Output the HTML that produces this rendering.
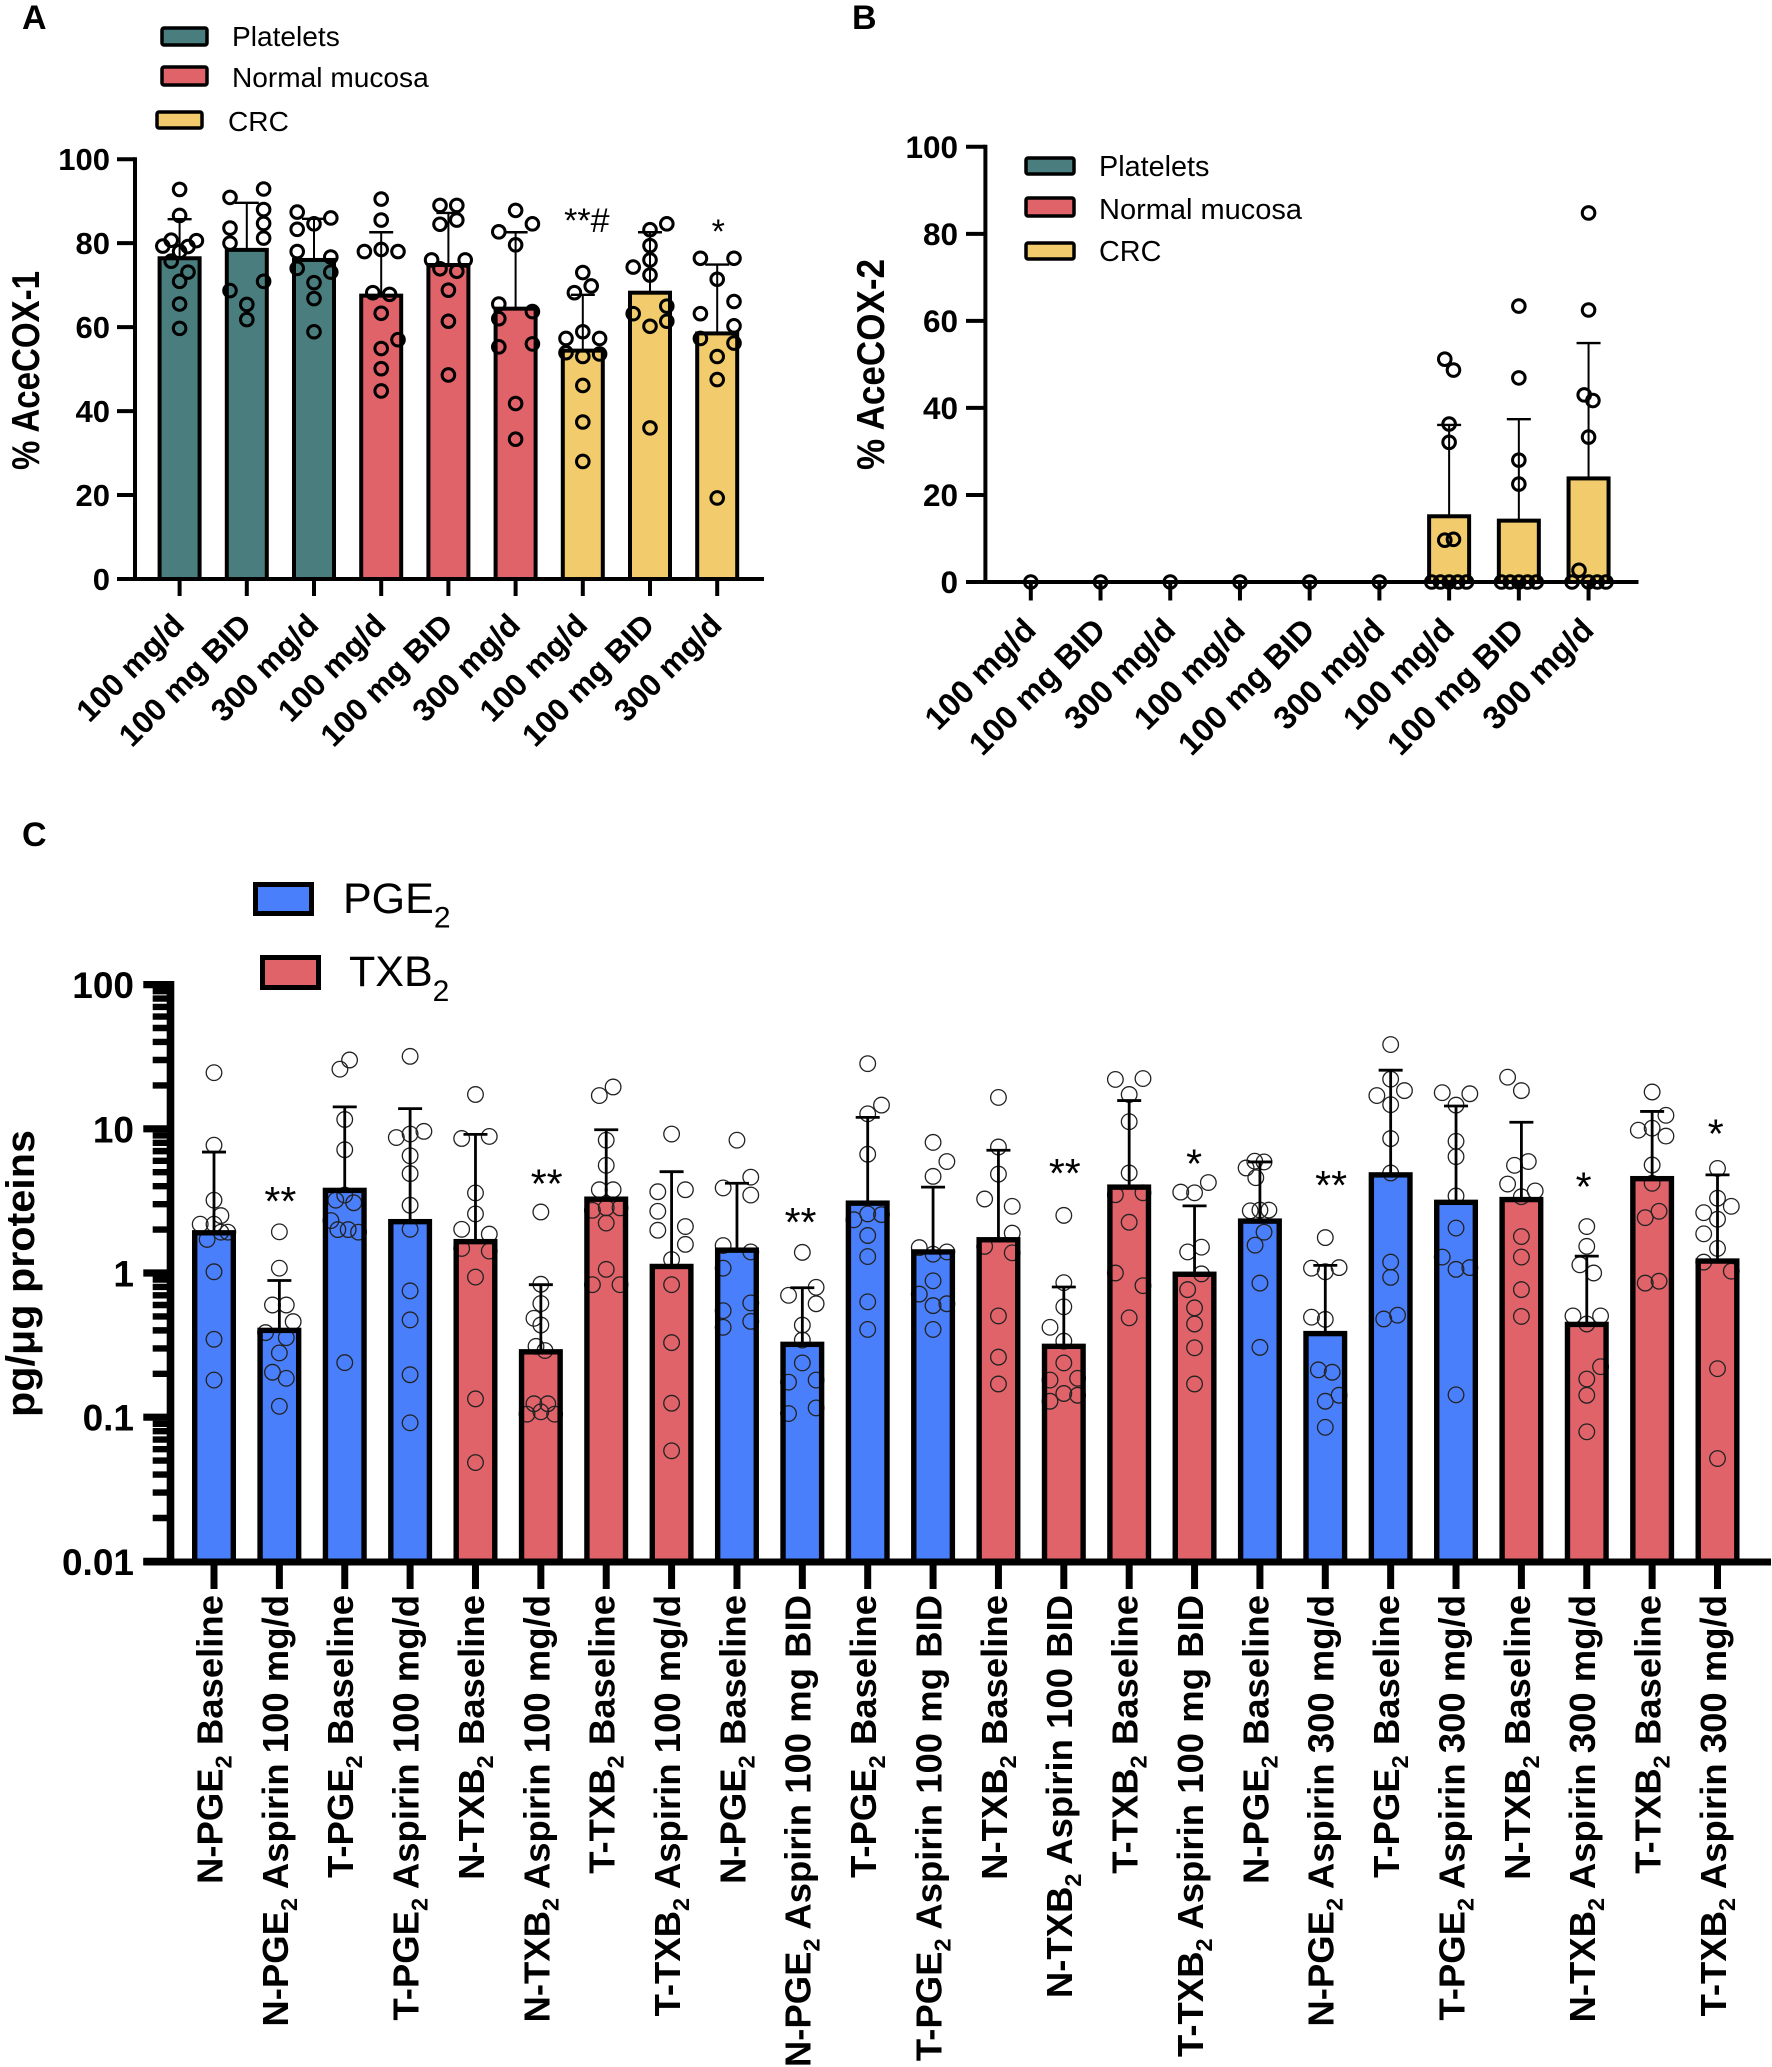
<!DOCTYPE html>
<html lang="en">
<head>
<meta charset="utf-8">
<title>AceCOX and prostanoid charts</title>
<style>
html,body{margin:0;padding:0;background:#fff;}
svg{display:block;}
text{font-family:"Liberation Sans",Arial,sans-serif;fill:#000;}
.b{font-weight:700;}
</style>
</head>
<body>
<svg id="figure" xmlns="http://www.w3.org/2000/svg" width="1772" height="2067" viewBox="0 0 1772 2067">
<rect x="0" y="0" width="1772" height="2067" fill="#fff"/>

<text class="b" x="22" y="29" font-size="34">A</text>
<text class="b" x="852" y="29" font-size="34">B</text>
<text class="b" x="22" y="846" font-size="34">C</text>

<g>
  <rect x="162" y="28" width="45" height="17" rx="2" fill="#4a7d7e" stroke="#000" stroke-width="3.5"/>
  <text x="232" y="46" font-size="28.1" fill="#111">Platelets</text>
  <rect x="162" y="67" width="45" height="18" rx="2" fill="#e0636a" stroke="#000" stroke-width="3.5"/>
  <text x="232" y="87" font-size="28.1" fill="#111">Normal mucosa</text>
  <rect x="157" y="112" width="45" height="16" rx="2" fill="#f2cc6c" stroke="#000" stroke-width="3.5"/>
  <text x="228" y="131" font-size="28.1" fill="#111">CRC</text>
</g>

<g>
  <rect x="1026" y="158" width="48" height="16" rx="2" fill="#4a7d7e" stroke="#000" stroke-width="3.5"/>
  <text x="1099" y="176" font-size="28.8" fill="#111">Platelets</text>
  <rect x="1026" y="198" width="48" height="18" rx="2" fill="#e0636a" stroke="#000" stroke-width="3.5"/>
  <text x="1099" y="219" font-size="29" fill="#111">Normal mucosa</text>
  <rect x="1026" y="243" width="48" height="16" rx="2" fill="#f2cc6c" stroke="#000" stroke-width="3.5"/>
  <text x="1099" y="261" font-size="28.8" fill="#111">CRC</text>
</g>

<g>
  <rect x="255.5" y="884.5" width="56" height="29" fill="#4a7ffb" stroke="#000" stroke-width="5"/>
  <text x="343" y="913" font-size="43" fill="#111">PGE<tspan font-size="30" dy="14.5">2</tspan></text>
  <rect x="262.5" y="957.5" width="56" height="30" fill="#e0636a" stroke="#000" stroke-width="5"/>
  <text x="349" y="986" font-size="43" fill="#111">TXB<tspan font-size="30" dy="15">2</tspan></text>
</g>

<text class="b" transform="translate(39,370.5) rotate(-90)" text-anchor="middle" font-size="39" textLength="199" lengthAdjust="spacingAndGlyphs">% AceCOX-1</text>
<text class="b" transform="translate(884,364.5) rotate(-90)" text-anchor="middle" font-size="39" textLength="211" lengthAdjust="spacingAndGlyphs">% AceCOX-2</text>
<text class="b" transform="translate(34,1273.5) rotate(-90)" text-anchor="middle" font-size="40" textLength="287" lengthAdjust="spacingAndGlyphs">pg/μg proteins</text>

<g id="chart-a"></g>
<g id="chart-b"></g>
<g id="chart-c"></g>
</svg>

<script>
/* ---------- shared categories ---------- */
const doseLabels = ['100 mg/d','100 mg BID','300 mg/d','100 mg/d','100 mg BID','300 mg/d','100 mg/d','100 mg BID','300 mg/d'];
const tissueGroups = ['platelets','platelets','platelets','mucosa','mucosa','mucosa','crc','crc','crc'];
const percentTicks = [0,20,40,60,80,100];

/* ---------- panel A ---------- */
const aMeans = [76.4,78.4,76,67.5,74.8,64.4,54.4,68.2,58.5];
const aUpper = [85.7,89.6,85.8,82.6,87.2,82.6,67.7,82.6,74.9];
const aValues = [
  [92.8,86.6,80.7,80.6,79.3,79.2,78,75.7,73.1,70.9,65.5,59.7],
  [92.9,90.9,88,84.7,83.6,81.2,80,70.9,68.7,65.4,61.8],
  [87.4,86,84.6,83.3,78,76.7,74,73.1,70.6,66.8,58.9],
  [90.5,85.5,78,78.5,78,68.2,67.8,63.3,57,54.9,50.1,44.8],
  [89,89,84.5,85.5,76,76,73.9,73.3,68.8,61.4,48.6],
  [87.8,84.6,82.7,79.6,65.5,63.7,62,56,55.3,41.8,33.3],
  [73,68.2,69.8,58.9,57.3,57.3,53.9,53,53.6,46.1,37.4,28],
  [84.6,83.2,79.4,76,74.3,72.4,65,63.2,61.4,60.2,36],
  [76.4,76.4,71.4,66.1,63.2,60.3,57.3,56.2,53,47.5,19.3]
];
const aLanes = [
  [0,0,-1,2,-2,1,0,-1,1,0,0,0],
  [2,-2,2,2,-2,2,-2,2,-2,0,0],
  [-2,2,0,-2,-2,2,-2,2,0,0,0],
  [0,0,-2,0,2,-1,1,0,2,0,0,0],
  [-1,1,-1,1,-2,2,-1,1,0,0,0],
  [0,2,-2,0,-2,2,-2,2,-2,0,0],
  [0,-1,1,0,-2,2,-2,0,2,0,0,0],
  [2,0,0,0,-2,0,2,-2,2,0,0],
  [-2,2,0,2,-2,2,-2,2,0,0,0]
];
const aNotes = ['','','','','','','**#','','*'];

/* ---------- panel B ---------- */
const bMeans = [0,0,0,0,0,0,15.1,14.1,23.8];
const bUpper = [0,0,0,0,0,0,36.1,37.4,54.9];
const bValues = [
  [0],[0],[0],[0],[0],[0],
  [51.2,48.7,36.3,32.1,9.6,9.8,0,0,0,0,0],
  [63.4,46.9,28,22.5,0,0,0,0,0],
  [84.8,62.5,43,41.7,33.3,2.7,0,0,0,0]
];
const bLanes = [
  [0],[0],[0],[0],[0],[0],
  [-0.5,0.5,0,0,-0.5,0.5,-2,-1,0,1,2],
  [0,0,0,0,-2,-1,0,1,2],
  [0,0,-0.5,0.5,0,-1.1,-1.9,0,1,2]
];

/* ---------- panel C ---------- */
const cLabels = ['N-PGE2 Baseline','N-PGE2 Aspirin 100 mg/d','T-PGE2 Baseline','T-PGE2 Aspirin 100 mg/d','N-TXB2 Baseline','N-TXB2 Aspirin 100 mg/d','T-TXB2 Baseline','T-TXB2 Aspirin 100 mg/d','N-PGE2 Baseline','N-PGE2 Aspirin 100 mg BID','T-PGE2 Baseline','T-PGE2 Aspirin 100 mg BID','N-TXB2 Baseline','N-TXB2 Aspirin 100 BID','T-TXB2 Baseline','T-TXB2 Aspirin 100 mg BID','N-PGE2 Baseline','N-PGE2 Aspirin 300 mg/d','T-PGE2 Baseline','T-PGE2 Aspirin 300 mg/d','N-TXB2 Baseline','N-TXB2 Aspirin 300 mg/d','T-TXB2 Baseline','T-TXB2 Aspirin 300 mg/d'];
const cMeans = [1.9,0.4,3.74,2.27,1.65,0.284,3.25,1.11,1.44,0.32,3.05,1.4,1.7,0.31,3.94,0.98,2.29,0.38,4.79,3.09,3.23,0.44,4.51,1.21];
const cUpper = [6.9,0.887,14.2,13.8,9.15,0.83,9.85,5.04,4.19,0.79,12,3.94,7.1,0.8,15.7,2.92,5.89,1.13,25.5,14.4,11.1,1.31,13.2,4.79];
const cValues = [
  [24.5,7.7,3.2,2.5,2.18,2.18,1.92,1.92,1.71,1.02,0.347,0.181],
  [1.93,1.08,0.6,0.6,0.46,0.386,0.356,0.279,0.205,0.186,0.119],
  [30,25.9,11.6,7.16,3.47,3.2,3.07,2.31,2,2,1.92,0.239],
  [31.8,8.7,9.2,9.6,6.5,4.89,2.95,2.01,0.752,0.473,0.197,0.0914],
  [17.3,8.57,8.85,3.59,2.57,2.01,1.86,1.48,1.42,0.937,0.134,0.0485],
  [2.65,0.836,0.614,0.485,0.436,0.31,0.29,0.124,0.124,0.105,0.109,0.105],
  [19.5,17,8.34,5.58,3.78,3.78,2.72,2.83,2.83,2.22,1.06,0.83,0.83],
  [9.2,3.66,3.78,2.68,1.98,2.1,1.58,1.24,0.83,0.329,0.125,0.0585],
  [8.34,4.62,3.89,3.47,1.55,1.4,1.08,0.62,0.548,0.462,0.42],
  [1.39,0.796,0.7,0.612,0.435,0.343,0.238,0.175,0.181,0.106,0.116],
  [28.3,14.6,12.7,6.66,2.34,2.57,2.54,1.82,1.3,0.631,0.406],
  [8.05,5.93,4.68,1.5,1.35,1.4,0.883,0.714,0.594,0.612,0.406],
  [16.5,7.48,4.85,3.26,2.9,1.89,1.53,1.38,0.504,0.261,0.17],
  [2.51,0.857,0.583,0.42,0.337,0.238,0.181,0.186,0.146,0.142,0.129],
  [22,22.3,17.3,11.2,4.94,3.49,3.6,2.25,1,0.817,0.489],
  [4.24,3.64,3.6,1.51,1.4,0.986,0.767,0.573,0.443,0.303,0.17],
  [5.96,5.89,5.35,4.58,2.7,2.73,2.73,1.92,1.56,0.851,0.305],
  [1.76,1.08,1.09,1.02,0.494,0.477,0.213,0.205,0.129,0.142,0.0851],
  [38.4,22.1,18.4,17,14.7,8.55,4.94,1.19,0.933,0.51,0.48],
  [17.8,17.5,14.6,8.19,6.41,3.42,2.05,1.29,1.06,1.09,0.143],
  [22.8,18.4,5.93,5.58,4.14,3.71,3.38,1.79,1.29,0.767,0.5],
  [2.1,1.53,1.14,1,0.504,0.504,0.443,0.224,0.184,0.142,0.0792],
  [18,12.4,10.1,9.78,8.9,5.61,4.19,2.68,2.42,0.877,0.851],
  [5.31,3.3,2.9,2.62,2.36,1.87,1.48,1.19,1.03,0.217,0.0517]
];
const cLanes = [
  [0,0,0,1,-2,0,2,1,-1,0,0,0],
  [0,0,-1,1,2,-2,1,0,-1,1,0],
  [0.7,-0.7,0,0,0,-1.3,1.3,-2,-1,0.5,2,0],
  [0,-2,0,2,0,0,0,0,0,0,0,0],
  [0,-2,2,0,0,-2,2,-2,2,0,0,0],
  [0,0,0,-1,0,-0.7,0.6,-1,1,-2,0,2],
  [1,-1,0,0,1,-1,-2,0,2,0,0,2,-2],
  [0,-2,2,-2,-2,2,2,0,0,0,0,0],
  [0,2,-2,2,-2,2,-2,2,-2,2,-2],
  [0,2,-2,2,0,0,0,-2,2,-2,2],
  [0,2,0,0,-2,0,2,0,0,0,0],
  [0,2,0,-2,0,2,0,-2,0,2,0],
  [0,0,0,-2,2,2,-2,2,0,0,0],
  [0,0,0,-2,0,0,-2,2,0,2,-2],
  [-2,2,0,0,0,-2,2,0,-2,2,0],
  [2,-2,0,1,-1,1,-1,0,0,0,0],
  [-0.75,0.6,-2,-0.6,-1.4,0,1.3,0.6,-0.7,0,0],
  [0,-2,2,0,-2,0,-1,1,0,2,0],
  [0,0,2,-2,0,0,0,0,0,1,-1],
  [-2,2,0,0,0,0,0,-2,0,2,0],
  [-2,0,1,-1,-2,2,0,0,0,0,0],
  [0,0,-1,1,-2,2,0,2,0,0,0],
  [0,2,0,-2,2,0,0,1,-1,1,-1],
  [0,0,2,-2,0,-2,0,-2,2,0,0]
];
const cNotes = ['','**','','','','**','','','','**','','','','**','','*','','**','','','','*','','*'];
const cNoteLevels = [0,2.53,0,0,0,3.35,0,0,0,1.81,0,0,0,3.95,0,4.61,0,3.25,0,0,0,3.17,0,7.43];
const cNoteLanes = [0,0,0,0,0,0.7,0,0,0,-0.4,0,0,0,0,0,-0.2,0,0.7,0,0,0,-0.6,0,-0.4];
const cTickLabels = ['100','10','1','0.1','0.01'];
const cTickValues = [100,10,1,0.1,0.01];
const cDecadeStarts = [10,1,0.1,0.01];
const cMinorSteps = [2,3,4,5,6,7,8,9];

/* ---------- helpers ---------- */
const SVGNS = 'http://www.w3.org/2000/svg';
const tissueFill = {platelets:'#4a7d7e', mucosa:'#e0636a', crc:'#f2cc6c', pge:'#4a7ffb', txb:'#e0636a'};
function mk(tag, attrs, parent){
  const el = document.createElementNS(SVGNS, tag);
  for (const k in attrs) el.setAttribute(k, attrs[k]);
  parent.appendChild(el);
  return el;
}

/* ---------- linear panels (A and B) ---------- */
function drawPercentPanel(root, cfg){
  const yOf = v => cfg.y0 - v * (cfg.y0 - cfg.y100) / 100;
  const xOf = i => cfg.x0 + i * cfg.step;
  const bars = mk('g', {}, root);
  
  

  cfg.means.forEach((m, i) => {
    if (m <= 0) return;
    const bar = mk('rect', {x:xOf(i)-cfg.barW/2, y:yOf(m), width:cfg.barW, height:cfg.y0-yOf(m), fill:tissueFill[tissueGroups[i]], stroke:'#000', 'stroke-width':4}, bars);
    
    
  });

  cfg.upper.forEach((u, i) => {
    if (u <= 0) return;
    const stem = mk('line', {x1:xOf(i), x2:xOf(i), y1:yOf(cfg.means[i]), y2:yOf(u), stroke:'#000', 'stroke-width':2}, bars);
    
    
    const cap = mk('line', {x1:xOf(i)-12, x2:xOf(i)+12, y1:yOf(u), y2:yOf(u), stroke:'#000', 'stroke-width':2.4}, bars);
    
    
  });

  /* axes */
  const axisY = mk('line', {x1:cfg.axisX, x2:cfg.axisX, y1:yOf(100)-2, y2:cfg.y0+2, stroke:'#000', 'stroke-width':4}, root);
  
  
  const axisX = mk('line', {x1:cfg.tickL, x2:cfg.axisEnd, y1:cfg.y0, y2:cfg.y0, stroke:'#000', 'stroke-width':4}, root);
  
  

  percentTicks.forEach(t => {
    const tick = mk('line', {x1:cfg.tickL, x2:cfg.axisX, y1:yOf(t), y2:yOf(t), stroke:'#000', 'stroke-width':4}, root);
    
    
    const lab = mk('text', {x:cfg.labelR, y:yOf(t)+11, 'text-anchor':'end', 'font-size':cfg.tickFont, 'font-weight':700}, root);
    lab.textContent = String(t);
    
    
  });

  doseLabels.forEach((d, i) => {
    const tick = mk('line', {x1:xOf(i), x2:xOf(i), y1:cfg.y0, y2:cfg.tickB, stroke:'#000', 'stroke-width':4}, root);
    
    
    const ex = xOf(i) + cfg.labelDx;
    const lab = mk('text', {transform:'translate(' + ex + ',' + cfg.labelY + ') rotate(-45)', 'text-anchor':'end', 'font-size':cfg.labelFont, 'font-weight':700}, root);
    lab.textContent = d;
    
    
  });

  /* points */
  cfg.values.forEach((arr, i) => {
    arr.forEach((v, j) => {
      const c = mk('circle', {cx:xOf(i) + cfg.lanes[i][j] * cfg.laneW, cy:yOf(v), r:6.3, fill:'none', stroke:'#000', 'stroke-width':3}, root);
      
      
    });
  });

  if (cfg.notes) cfg.notes.forEach((n, i) => {
    if (!n) return;
    const lab = mk('text', {x:xOf(i) + (n === '*' ? 1 : 4), y: n === '*' ? 243 : 232, 'text-anchor':'middle', 'font-size':34, fill:'#111'}, root);
    lab.textContent = n;
    
    
  });
}

drawPercentPanel(document.getElementById('chart-a'), {
  x0:179.6, step:67.2, barW:40, y0:579, y100:159.2, axisX:135, tickL:117, axisEnd:764, tickB:596,
  labelR:110, labelDx:6.4, labelY:627, laneW:8.4, tickFont:31, labelFont:31.5, means:aMeans, upper:aUpper, values:aValues, lanes:aLanes, notes:aNotes
});
drawPercentPanel(document.getElementById('chart-b'), {
  x0:1030.8, step:69.72, barW:40, y0:582, y100:146.8, axisX:985.4, tickL:966, axisEnd:1638.5, tickB:600.5,
  labelR:958, labelDx:7, labelY:632, laneW:8.7, tickFont:31.5, labelFont:32.5, means:bMeans, upper:bUpper, values:bValues, lanes:bLanes, notes:null
});

/* ---------- log panel (C) ---------- */
(function(){
  const root = document.getElementById('chart-c');
  const yOf = v => 1273 - Math.log10(v) * 144.2;
  const xOf = i => 214 + i * 65.37;
  const base = yOf(0.01);
  const barW = 38.6, laneW = 6.9;
  const kindOf = l => /PGE/.test(l) ? 'pge' : 'txb';

  /* bar fills first so that the points sit between fill and outline */
  cLabels.forEach((l, i) => {
    const f = mk('rect', {x:xOf(i)-barW/2, y:yOf(cMeans[i]), width:barW, height:base-yOf(cMeans[i]), fill:tissueFill[kindOf(l)]}, root);
    
    
  });

  cValues.forEach((arr, i) => {
    arr.forEach((v, j) => {
      const c = mk('circle', {cx:xOf(i) + cLanes[i][j] * laneW, cy:yOf(v), r:7.8, fill:'none', stroke:'#222', 'stroke-width':1.3}, root);
      
      
    });
  });

  cLabels.forEach((l, i) => {
    const o = mk('rect', {x:xOf(i)-barW/2, y:yOf(cMeans[i]), width:barW, height:base-yOf(cMeans[i]), fill:'none', stroke:'#000', 'stroke-width':5.4}, root);
    
    
    const stem = mk('line', {x1:xOf(i), x2:xOf(i), y1:yOf(cMeans[i]), y2:yOf(cUpper[i]), stroke:'#000', 'stroke-width':2.8}, root);
    
    
    const cap = mk('line', {x1:xOf(i)-12, x2:xOf(i)+12, y1:yOf(cUpper[i]), y2:yOf(cUpper[i]), stroke:'#000', 'stroke-width':2.8}, root);
    
    

    const tick = mk('line', {x1:xOf(i), x2:xOf(i), y1:base, y2:1589, stroke:'#000', 'stroke-width':7}, root);
    
    

    const lab = mk('text', {transform:'translate(' + (xOf(i) + 8.4) + ',1595) rotate(-90)', 'text-anchor':'end', 'font-size':36.5, 'font-weight':700}, root);
    
    
    const parts = l.match(/^(.*?(?:PGE|TXB))2(.*)$/);
    const t1 = mk('tspan', {}, lab);
    t1.textContent = parts[1];
    const t2 = mk('tspan', {'font-size':23.5, dy:9}, lab);
    t2.textContent = '2';
    const t3 = mk('tspan', {dy:-9}, lab);
    t3.textContent = parts[2];
  });

  /* y axis */
  const axisY = mk('line', {x1:170.5, x2:170.5, y1:yOf(100)-3.6, y2:base+4, stroke:'#000', 'stroke-width':7.6}, root);
  
  
  const axisX = mk('line', {x1:143.3, x2:1771, y1:base+0.6, y2:base+0.6, stroke:'#000', 'stroke-width':7}, root);
  
  

  cDecadeStarts.forEach(d => {
    cMinorSteps.forEach(m => {
      const y = yOf(d * m);
      const mt = mk('line', {x1:152.7, x2:170, y1:y, y2:y, stroke:'#000', 'stroke-width':6.4}, root);
      
      
    });
  });
  cTickValues.forEach((v, i) => {
    const y = yOf(v);
    const t = mk('line', {x1:143.3, x2:170, y1:y, y2:y, stroke:'#000', 'stroke-width':7.2}, root);
    
    
    const lab = mk('text', {x:134, y:y+13.5, 'text-anchor':'end', 'font-size':37, 'font-weight':700}, root);
    lab.textContent = cTickLabels[i];
    
    
  });

  /* significance markers */
  cNotes.forEach((n, i) => {
    if (!n) return;
    const lab = mk('text', {x:xOf(i) + 1 + cNoteLanes[i] * laneW, y:yOf(cNoteLevels[i]), 'text-anchor':'middle', 'font-size':41, fill:'#111'}, root);
    lab.textContent = n;
    
    
  });
})();
</script>
</body>
</html>
